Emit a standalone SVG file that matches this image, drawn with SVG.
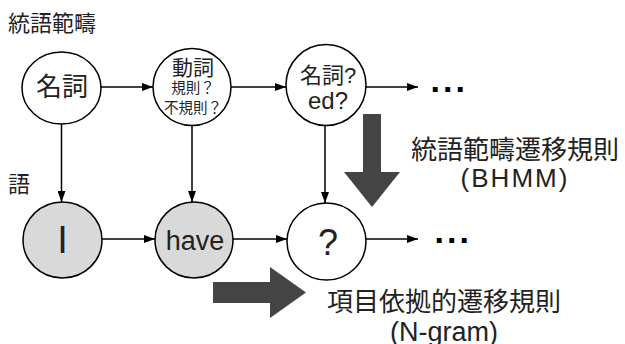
<svg xmlns="http://www.w3.org/2000/svg" width="625" height="344" viewBox="0 0 625 344">
<defs>
<style>
.t{font-family:"Liberation Sans","Noto Sans CJK JP",sans-serif;fill:#222;}
.j{font-family:"Noto Sans CJK JP","Liberation Sans",sans-serif;fill:#222;}
.n{stroke:#000;stroke-width:1.5;fill:#fff;}
.g{stroke:#000;stroke-width:1.5;fill:#d9d9d9;}
.c{stroke:#000;stroke-width:1.5;fill:none;marker-end:url(#ah);}
.big{fill:#444;}
.dots{font-family:"Liberation Sans",sans-serif;font-weight:bold;font-size:34px;letter-spacing:3px;fill:#000;}
</style>
<marker id="ah" markerUnits="userSpaceOnUse" markerWidth="11" markerHeight="8" refX="11" refY="4" orient="auto">
<path d="M0,0 L11,4 L0,8 z" fill="#000"/>
</marker>
</defs>
<rect width="625" height="344" fill="#fff"/>

<text class="j" x="8" y="31" font-size="22">統語範疇</text>
<text class="j" x="8" y="192" font-size="22">語</text>

<g id="connectors">
<line class="c" x1="101" y1="87" x2="153" y2="87"/>
<line class="c" x1="231" y1="87" x2="286" y2="87"/>
<line class="c" x1="366" y1="87" x2="418" y2="87"/>
<line class="c" x1="102" y1="239" x2="155" y2="239"/>
<line class="c" x1="233" y1="239" x2="287" y2="239"/>
<line class="c" x1="366" y1="239" x2="418" y2="239"/>
<line class="c" x1="61.5" y1="124" x2="61.5" y2="202"/>
<line class="c" x1="192" y1="126" x2="192" y2="202"/>
<line class="c" x1="325" y1="125" x2="325" y2="203"/>
</g>

<g id="n_meishi">
<ellipse class="n" cx="61.5" cy="88" rx="39.5" ry="36"/>
<text class="j" x="62" y="96" font-size="26" text-anchor="middle">名詞</text>
</g>
<g id="n_doushi">
<ellipse class="n" cx="192" cy="87" rx="39" ry="38.5"/>
<text class="j" x="193" y="75" font-size="21" text-anchor="middle">動詞</text>
<text class="j" x="193" y="93" font-size="14.5" text-anchor="middle">規則？</text>
<text class="j" x="193" y="113" font-size="14.5" text-anchor="middle">不規則？</text>
</g>
<g id="n_q1">
<ellipse class="n" cx="326" cy="85" rx="40" ry="40.5"/>
<text class="t" x="328" y="83" font-size="22" text-anchor="middle">名詞?</text>
<text class="t" x="328" y="109" font-size="24" text-anchor="middle">ed?</text>
</g>
<g id="n_I">
<ellipse class="g" cx="62.5" cy="240" rx="39.5" ry="38"/>
<text class="t" x="62.5" y="253" font-size="38" text-anchor="middle">I</text>
</g>
<g id="n_have">
<ellipse class="g" cx="194" cy="240" rx="39" ry="38"/>
<text class="t" x="195" y="250" font-size="27" text-anchor="middle">have</text>
</g>
<g id="n_q2">
<ellipse class="n" cx="326.5" cy="241.5" rx="39.5" ry="38.5"/>
<text class="t" x="328" y="255" font-size="36" text-anchor="middle">?</text>
</g>

<text class="dots" x="430.5" y="92">...</text>
<text class="dots" x="434.5" y="243">...</text>

<g id="arrow_bhmm">
<polygon class="big" points="363,114 381,114 381,172 400,172 372,207 344,172 363,172"/>
<text class="j" x="515" y="159" font-size="26" text-anchor="middle">統語範疇遷移規則</text>
<text class="t" x="515" y="187" font-size="26" letter-spacing="2" text-anchor="middle">(BHMM)</text>
</g>
<g id="arrow_ngram">
<polygon class="big" points="213,282 270,282 270,267 306,292.5 270,318 270,303 213,303"/>
<text class="j" x="444" y="311" font-size="26" text-anchor="middle">項目依拠的遷移規則</text>
<text class="t" x="444" y="341" font-size="27" text-anchor="middle">(N-gram)</text>
</g>
</svg>
